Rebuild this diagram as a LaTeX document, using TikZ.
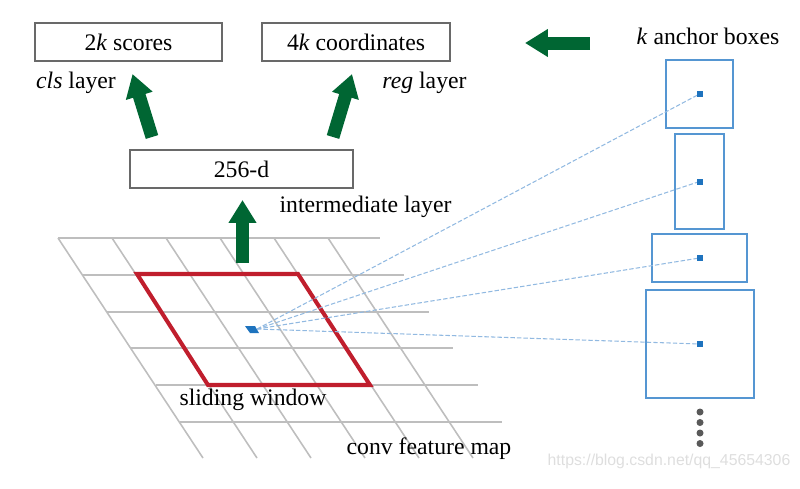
\documentclass[tikz,border=0pt]{standalone}
\usepackage{fontspec}
\setmainfont{Liberation Serif}
\newfontfamily\wmfont{Liberation Sans}
\usepackage{tikz}
\usetikzlibrary{arrows.meta}

\definecolor{rpngreen}{RGB}{0,102,51}
\definecolor{winred}{RGB}{192,30,45}
\definecolor{anchorblue}{RGB}{85,150,210}
\definecolor{dotblue}{RGB}{30,115,190}
\definecolor{rayblue}{RGB}{145,185,225}
\definecolor{gridgray}{RGB}{190,190,190}
\definecolor{boxgray}{RGB}{105,105,105}

\tikzset{
  layerbox/.style={draw=boxgray, line width=1pt, minimum height=0.76cm, inner sep=0pt},
  lbl/.style={font=\fontsize{13.5}{16}\selectfont, inner sep=0pt},
  bigarrow/.style={draw=rpngreen, line width=7.4pt, -{Triangle[width=15pt,length=13pt]}},
  gridline/.style={draw=gridgray, line width=1.1pt},
  anchorbox/.style={draw=anchorblue, line width=1.3pt, inner sep=0pt},
  ray/.style={draw=rayblue, line width=0.6pt, dash pattern=on 2.5pt off 1.2pt}
}

\begin{document}
\begin{tikzpicture}[x=0.02cm, y=-0.02cm]
\useasboundingbox (0,0) rectangle (800,488);

% Conv feature map grid
\foreach \i in {0,...,5}
  \draw[gridline] (58+24.4*\i, 238+36.8*\i) -- (380+24.4*\i, 238+36.8*\i);
\foreach \j in {0,...,5}
  \draw[gridline, line width=0.9pt] (58+54*\j, 238) -- (203+54*\j, 458);

% Sliding window
\draw[winred, line width=2.3pt] (137,274) -- (298,274) -- (370,385) -- (208,385) -- cycle;

% Window centre
\fill[dotblue] (245,326) -- (255,326) -- (259,333) -- (250,333) -- cycle;
\coordinate (ctr) at (257,329);

% Layer boxes
\node[layerbox, lbl, minimum width=3.74cm] (scores) at (128.5,42) {2\textit{k} scores};
\node[layerbox, lbl, minimum width=3.76cm] (coords) at (356,42) {4\textit{k} coordinates};
\node[layerbox, lbl, minimum width=4.46cm] (hidden) at (241.5,169) {256-d};

% Labels
\node[lbl] (clslbl) at (76,83) {\textit{cls} layer};
\node[lbl] (reglbl) at (424.5,83) {\textit{reg} layer};
\node[lbl] (midlbl) at (365.5,207) {intermediate layer};
\node[lbl] (winlbl) at (253,400) {sliding window};
\node[lbl] (maplbl) at (429,449) {conv feature map};
\node[lbl] (anclbl) at (708,36) {\textit{k} anchor boxes};

% Green arrows
\coordinate (up0) at (242.5,263);
\coordinate (up1) at (242.5,200);
\coordinate (cls0) at (152,137);
\coordinate (cls1) at (132.5,74);
\coordinate (reg0) at (333,137);
\coordinate (reg1) at (352,74);
\coordinate (in0) at (590,43);
\coordinate (in1) at (525,43);
\draw[bigarrow] (up0) -- (up1);
\draw[bigarrow] (cls0) -- (cls1);
\draw[bigarrow] (reg0) -- (reg1);
\draw[bigarrow] (in0) -- (in1);

% Anchor boxes
\node[anchorbox, minimum width=1.34cm, minimum height=1.36cm] (a1) at (699.5,94) {};
\node[anchorbox, minimum width=0.98cm, minimum height=1.9cm] (a2) at (699.5,181.5) {};
\node[anchorbox, minimum width=1.9cm, minimum height=0.96cm] (a3) at (699.5,258) {};
\node[anchorbox, minimum width=2.16cm, minimum height=2.16cm] (a4) at (700,344) {};

% Rays from window centre to anchor centres
\foreach \a in {a1,a2,a3,a4} {
  \draw[ray] (ctr) -- (\a.center);
  \fill[dotblue] ([shift={(-3,-3)}]\a.center) rectangle ([shift={(3,3)}]\a.center);
}

% More anchors
\foreach \y in {412,422.5,433,443.5}
  \fill[black!65] (700,\y) circle (2pt);

\node[font=\wmfont\fontsize{9}{11}\selectfont, text=black!13, inner sep=0pt] (wm) at (669,461) {https://blog.csdn.net/qq\_45654306};
\end{tikzpicture}
\end{document}
